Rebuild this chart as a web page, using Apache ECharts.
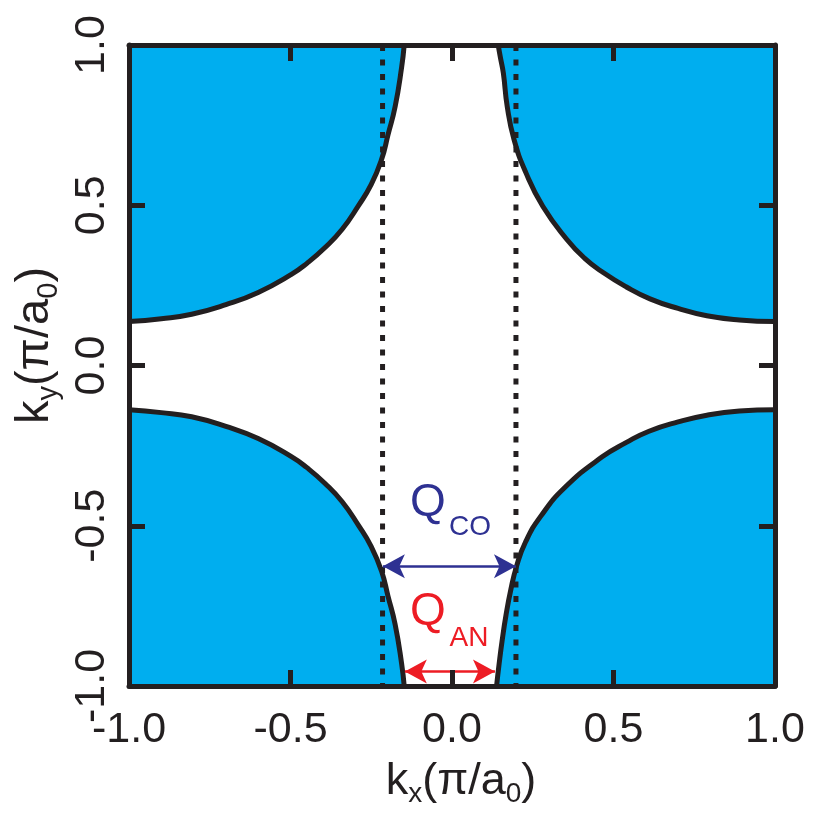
<!DOCTYPE html>
<html><head><meta charset="utf-8">
<script src="https://cdn.jsdelivr.net/npm/echarts@6/dist/echarts.min.js"></script>
<style>html,body{margin:0;padding:0;background:#fff}#c{width:813px;height:813px}</style>
</head><body><div id="c"></div>
<script>
// ---- data (units of pi/a0) ----
const tickValues = [-1, -0.5, 0, 0.5, 1];
const tickLabels = ['-1.0', '-0.5', '0.0', '0.5', '1.0'];

// Fermi-surface contours (hole pockets around the zone corners)
const topRightKx = [0.143, 0.150, 0.159, 0.171, 0.192, 0.229, 0.281, 0.355, 0.410, 0.468, 0.540, 0.613, 0.700, 0.789, 0.890, 1.0];
const topRightKy = [1.0, 0.960, 0.912, 0.808, 0.705, 0.601, 0.497, 0.394, 0.335, 0.290, 0.245, 0.208, 0.178, 0.155, 0.142, 0.137];

const bottomRightKx = [0.138, 0.146, 0.155, 0.167, 0.182, 0.200, 0.228, 0.275, 0.350, 0.465, 0.540, 0.610, 0.700, 0.789, 0.890, 1.0];
const bottomRightKy = [-1.0, -0.930, -0.860, -0.780, -0.700, -0.626, -0.550, -0.470, -0.380, -0.285, -0.240, -0.205, -0.176, -0.155, -0.142, -0.138];

const topLeftKx = [-0.148, -0.156, -0.176, -0.198, -0.218, -0.250, -0.290, -0.340, -0.393, -0.450, -0.496, -0.600, -0.700, -0.806, -0.900, -1.0];
const topLeftKy = [1.0, 0.930, 0.808, 0.720, 0.643, 0.565, 0.498, 0.425, 0.368, 0.318, 0.285, 0.228, 0.190, 0.160, 0.146, 0.137];

const bottomLeftKx = [-0.148, -0.156, -0.176, -0.198, -0.218, -0.250, -0.290, -0.340, -0.393, -0.450, -0.496, -0.600, -0.700, -0.806, -0.900, -1.0];
const bottomLeftKy = [-1.0, -0.930, -0.808, -0.720, -0.642, -0.565, -0.498, -0.425, -0.368, -0.318, -0.285, -0.228, -0.190, -0.160, -0.147, -0.138];

// dotted guide lines (kx positions)
const guideKx = [-0.215, 0.198];
// arrows: [kxStart, kxEnd, ky]
const arrowCO = [-0.214, 0.198, -0.626];
const arrowAN = [-0.146, 0.133, -0.955];

// ---- styles ----
const INK = '#231F20';
const FILL = '#00AEEF';
const NAVY = '#2E3192';
const RED = '#ED1C24';
const FONT = '"Liberation Sans", Arial, Helvetica, sans-serif';

function pts(xs, ys) { return xs.map((x, i) => [x, ys[i]]); }
function fmt(v) {
  const i = tickValues.findIndex(t => Math.abs(t - v) < 1e-6);
  return i >= 0 ? tickLabels[i] : '';
}

function pocket(xs, ys, origin) {
  return {
    type: 'line', data: pts(xs, ys), symbol: 'none', smooth: 0.5,
    lineStyle: { color: INK, width: 5 },
    areaStyle: { color: FILL, opacity: 1, origin: origin },
    z: 2, silent: true
  };
}

function nameRich(main, sub, pad) {
  return {
    m: { fontSize: main, verticalAlign: 'top', fontFamily: FONT, color: INK },
    s: { fontSize: sub, verticalAlign: 'top', padding: [pad, 0, 0, 0], fontFamily: FONT, color: INK }
  };
}

const baseAxis = {
  type: 'value', min: -1, max: 1, interval: 0.5, z: 10,
  splitLine: { show: false },
  axisLine: { show: true, onZero: false, lineStyle: { color: INK, width: 5 } },
  axisTick: { show: true, inside: true, length: 16, lineStyle: { color: INK, width: 5 } }
};

const chart = echarts.init(document.getElementById('c'), null, { renderer: 'canvas' });
chart.setOption({
  animation: false,
  grid: { left: 129, right: 38, top: 45, bottom: 124.5 },
  xAxis: [
    Object.assign({}, baseAxis, {
      position: 'bottom',
      axisLabel: { show: true, formatter: fmt, fontSize: 43, fontFamily: FONT, color: INK, margin: 23, showMinLabel: true, showMaxLabel: true },
      name: '{m|k}{s|x}{m|(π/a}{s|0}{m|)}', nameLocation: 'middle', nameGap: 73,
      nameTextStyle: { rich: nameRich(45, 28, 21), padding: [0, 0, 0, 18] }
    }),
    Object.assign({}, baseAxis, { position: 'top', axisLabel: { show: false } })
  ],
  yAxis: [
    Object.assign({}, baseAxis, {
      position: 'left',
      axisLabel: { show: true, formatter: fmt, fontSize: 43, fontFamily: FONT, color: INK, rotate: 90, margin: 15, showMinLabel: true, showMaxLabel: true },
      name: '{m|k}{s|y}{m|(π/a}{s|0}{m|)}', nameLocation: 'middle', nameGap: 66,
      nameTextStyle: { rich: nameRich(47, 29, 22), padding: [0, 0, 0, 40] }
    }),
    Object.assign({}, baseAxis, { position: 'right', axisLabel: { show: false } })
  ],
  series: [
    pocket(topRightKx, topRightKy, 'end'),
    pocket(topLeftKx, topLeftKy, 'end'),
    pocket(bottomRightKx, bottomRightKy, 'start'),
    pocket(bottomLeftKx, bottomLeftKy, 'start'),
    {
      type: 'line', data: [[guideKx[0], 1], [guideKx[0], -1]], symbol: 'none', z: 3, silent: true,
      lineStyle: { color: INK, width: 5, type: [6, 8.5] },
      markLine: {
        silent: true, symbol: ['arrow', 'arrow'], symbolSize: [18, 22],
        label: { show: false },
        lineStyle: { type: 'solid', width: 2.5 },
        data: [
          [{ coord: [arrowCO[0], arrowCO[2]], lineStyle: { color: NAVY, width: 2.5, type: 'solid' }, itemStyle: { color: NAVY } },
           { coord: [arrowCO[1], arrowCO[2]] }],
          [{ coord: [arrowAN[0], arrowAN[2]], lineStyle: { color: RED, width: 2.5, type: 'solid' }, itemStyle: { color: RED } },
           { coord: [arrowAN[1], arrowAN[2]] }]
        ]
      }
    },
    {
      type: 'line', data: [[guideKx[1], 1], [guideKx[1], -1]], symbol: 'none', z: 3, silent: true,
      lineStyle: { color: INK, width: 5, type: [6, 8.5] }
    }
  ],
  graphic: [
    { type: 'text', x: 410, y: 503.4, z: 20, style: { text: 'Q', font: '46px ' + FONT, fill: NAVY, align: 'left', verticalAlign: 'middle' } },
    { type: 'text', x: 449, y: 526.8, z: 20, style: { text: 'CO', font: '28px ' + FONT, fill: NAVY, align: 'left', verticalAlign: 'middle' } },
    { type: 'text', x: 410, y: 612.4, z: 20, style: { text: 'Q', font: '46px ' + FONT, fill: RED, align: 'left', verticalAlign: 'middle' } },
    { type: 'text', x: 449.5, y: 638.6, z: 20, style: { text: 'AN', font: '28px ' + FONT, fill: RED, align: 'left', verticalAlign: 'middle' } }
  ]
});
</script>
</body></html>
